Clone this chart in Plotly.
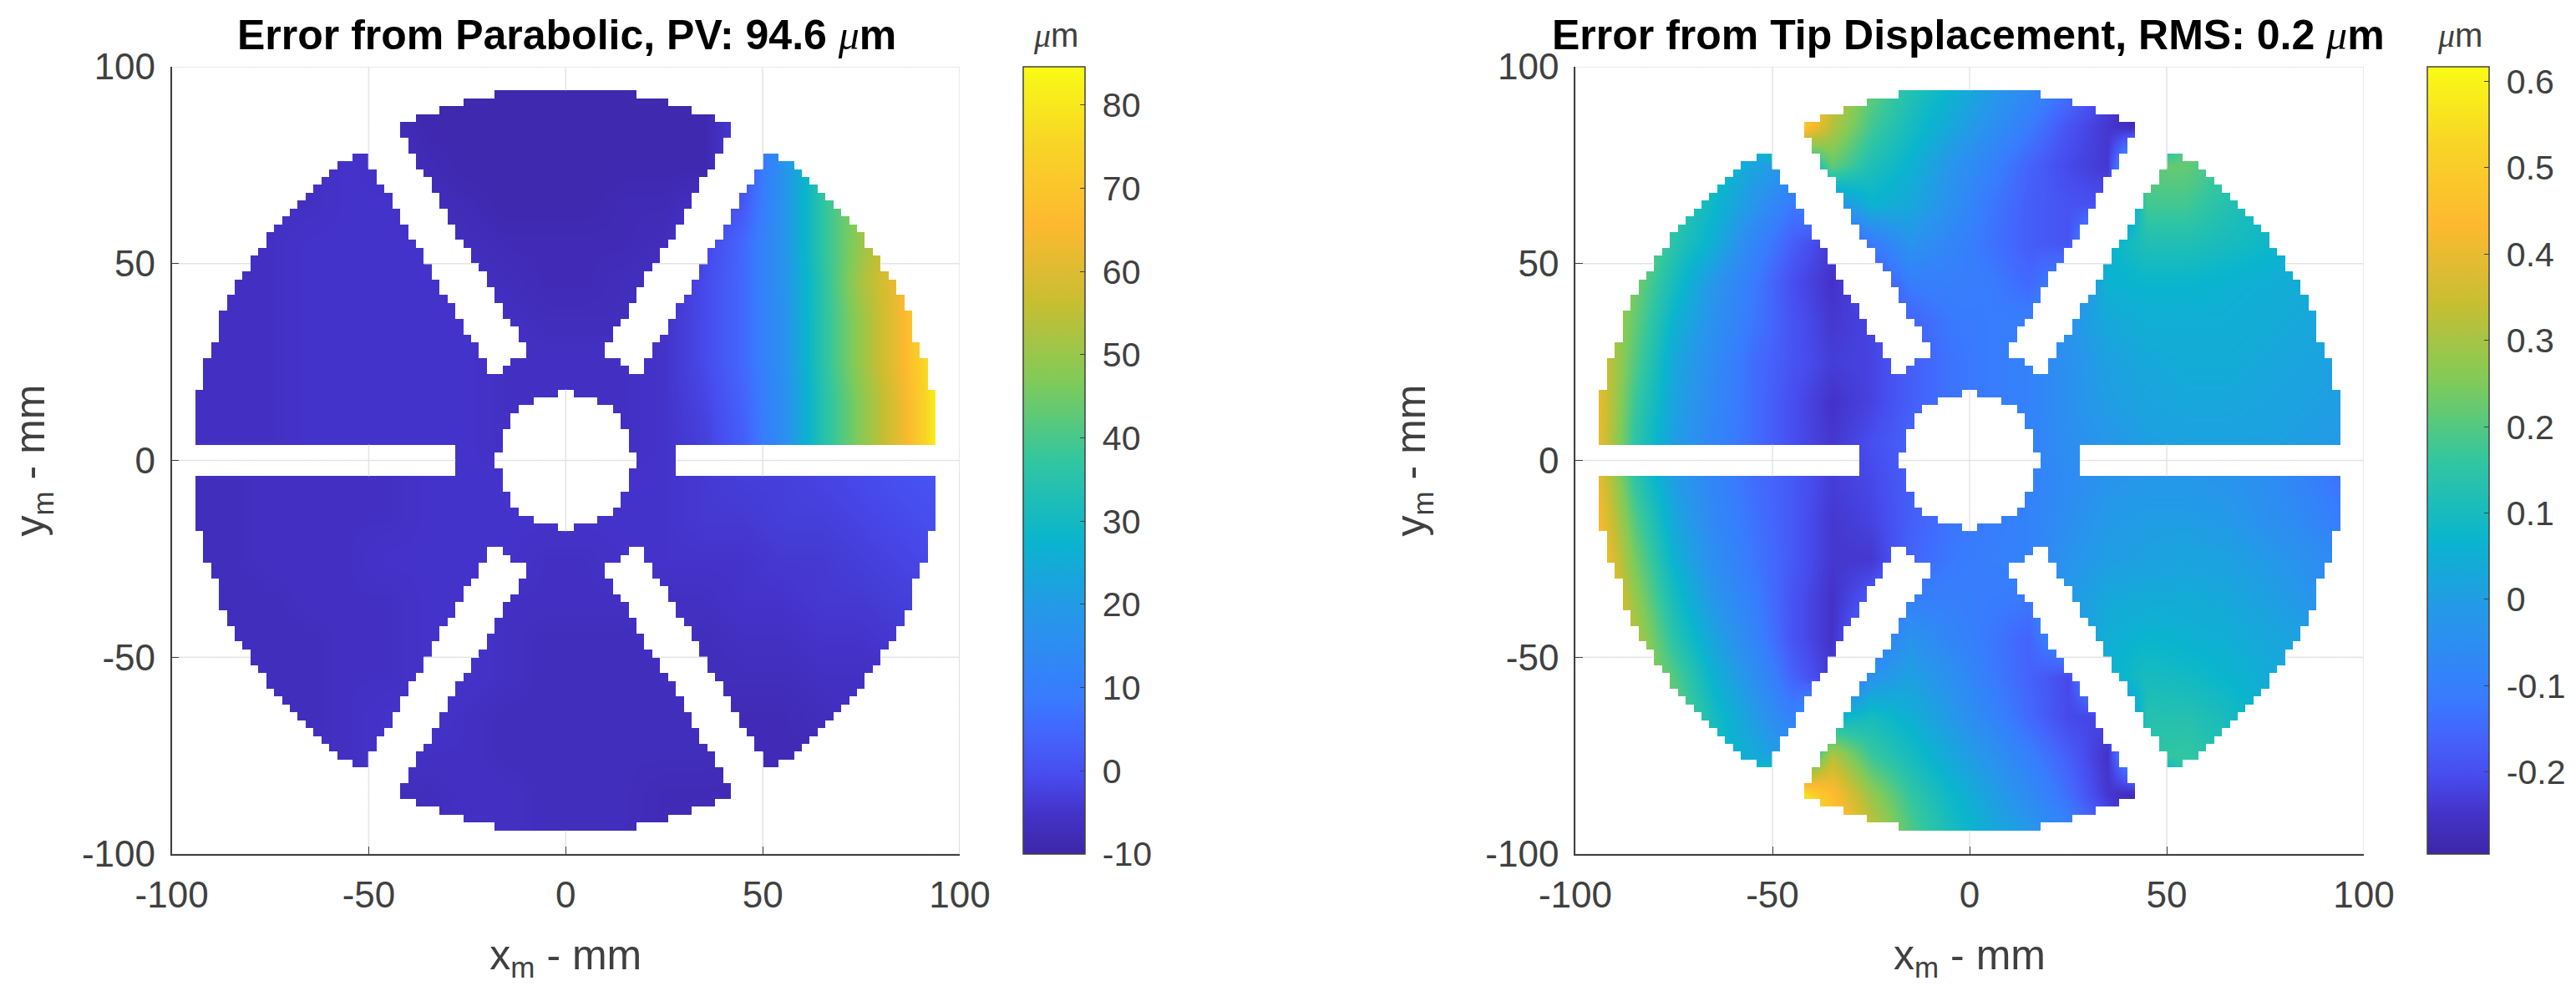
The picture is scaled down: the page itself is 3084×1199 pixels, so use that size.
import numpy as np
import plotly.graph_objects as go

# read-off knots (mm)
X_KNOTS = [-95, -85, -75, -65, -55, -45, -35, -25, -15, -5, 5, 15, 25, 35, 45, 55, 65, 75, 85, 95]
Y_KNOTS = [95, 85, 75, 65, 55, 45, 35, 25, 15, 4, -4, -15, -25, -35, -45, -55, -65, -75, -85, -95]

# error from parabolic, um (rows follow Y_KNOTS)
Z_PARABOLIC = [
    [-6, -6, -6, -6, -6, -7, -9, -9, -9, -9, -9, -9, -9, -9, -2, 17, 36, 50, 62, 84],
    [-6, -6, -6, -6, -6, -7, -9, -9, -9, -9, -9, -9, -9, -9, -2, 17, 36, 50, 62, 84],
    [-6, -6, -6, -6, -5, -6, -8, -9, -9, -9, -9, -9, -9, -9, 0, 17, 36, 50, 62, 84],
    [-6, -6, -6, -6, -5, -5, -7, -8, -9, -9, -9, -8, -8, -6, 2, 17, 36, 50, 62, 84],
    [-6, -6, -6, -5, -5, -5, -5, -7, -8, -8, -8, -8, -7, -2, 5, 17, 36, 50, 62, 84],
    [-6, -6, -6, -5, -5, -5, -5, -6, -7, -8, -8, -7, -6, -1, 5, 17, 35, 52, 64, 84],
    [-6, -6, -6, -5, -5, -5, -5, -5, -6, -7, -7, -7, -5, -1, 5, 16, 35, 50, 64, 84],
    [-6, -6, -6, -5, -5, -5, -5, -5, -6, -6, -6, -6, -5, -1, 5, 16, 35, 50, 64, 84],
    [-6, -6, -6, -5, -5, -5, -5, -5, -6, -6, -6, -6, -5, -2, 4, 15, 34, 48, 62, 84],
    [-6, -6, -6, -5, -5, -5, -5, -5, -6, -6, -6, -6, -5, -3, 3, 15, 34, 48, 62, 84],
    [-7, -7, -6, -6, -6, -6, -5, -5, -5, -6, -6, -5, -5, -4, -3, -3, -2, -1, 0, 1],
    [-7, -7, -6, -6, -6, -6, -5, -5, -5, -5, -5, -5, -5, -4, -4, -3, -3, -2, -1, 0],
    [-7, -7, -6, -6, -6, -5, -5, -5, -5, -6, -6, -5, -5, -5, -5, -4, -4, -3, -2, -1],
    [-7, -7, -7, -6, -6, -6, -5, -5, -6, -6, -6, -6, -6, -6, -5, -5, -4, -4, -3, -3],
    [-7, -7, -7, -7, -6, -6, -5, -5, -6, -7, -7, -7, -6, -7, -6, -6, -5, -5, -4, -4],
    [-7, -7, -7, -7, -6, -6, -5, -5, -6, -7, -7, -7, -7, -7, -7, -7, -6, -6, -5, -5],
    [-7, -7, -7, -7, -6, -5, -5, -6, -7, -7, -7, -7, -7, -7, -8, -8, -7, -6, -6, -6],
    [-7, -7, -7, -7, -6, -5, -6, -6, -7, -7, -7, -7, -7, -7, -8, -8, -8, -7, -7, -7],
    [-7, -7, -7, -7, -7, -7, -7, -6, -6, -7, -7, -7, -8, -8, -8, -8, -8, -8, -8, -8],
    [-7, -7, -7, -7, -7, -7, -7, -6, -6, -7, -7, -7, -8, -8, -8, -8, -8, -8, -8, -8],
]

# error from tip displacement, um (rows follow Y_KNOTS)
Z_TIP = [
    [.30, .25, .20, .12, .08, .55, .36, .22, .13, .07, .00, -.06, -.13, -.22, -.28, .22, .16, .11, .08, .06],
    [.30, .25, .20, .12, .08, .55, .32, .18, .10, .03, -.04, -.11, -.19, -.24, -.29, .22, .16, .11, .08, .06],
    [.30, .25, .18, .10, .02, -.03, .22, .12, .06, -.02, -.09, -.16, -.21, -.24, .22, .22, .16, .11, .08, .06],
    [.30, .25, .16, .08, -.02, -.12, -.05, .06, .03, -.04, -.12, -.17, -.19, -.20, .18, .18, .13, .09, .07, .05],
    [.34, .26, .14, .05, -.08, -.17, -.24, -.12, -.03, -.08, -.13, -.17, -.19, .06, .12, .12, .10, .08, .06, .05],
    [.36, .24, .10, -.02, -.11, -.20, -.25, -.20, -.11, -.10, -.11, -.15, -.08, .06, .07, .07, .06, .05, .04, .03],
    [.38, .22, .06, -.04, -.12, -.19, -.24, -.22, -.16, -.12, -.11, -.10, -.03, .03, .05, .05, .05, .04, .03, .02],
    [.40, .20, .03, -.06, -.14, -.19, -.23, -.22, -.17, -.13, -.11, -.09, -.04, .01, .03, .04, .04, .03, .02, .01],
    [.42, .17, .02, -.07, -.14, -.20, -.25, -.22, -.17, -.13, -.11, -.09, -.04, .00, .02, .03, .03, .02, .01, .00],
    [.42, .15, .00, -.08, -.14, -.20, -.24, -.20, -.16, -.13, -.11, -.09, -.05, -.02, .00, .01, .01, .01, .00, -.01],
    [.42, .15, .00, -.08, -.14, -.18, -.23, -.21, -.17, -.13, -.10, -.09, -.06, -.03, -.02, -.02, -.03, -.05, -.09, -.14],
    [.45, .20, .03, -.07, -.13, -.18, -.24, -.22, -.17, -.13, -.11, -.09, -.05, -.01, .00, .00, -.01, -.04, -.07, -.11],
    [.48, .24, .06, -.05, -.12, -.18, -.24, -.24, -.16, -.12, -.10, -.09, -.03, .00, .01, .02, .01, -.01, -.04, -.07],
    [.50, .28, .10, -.02, -.10, -.19, -.25, -.18, -.10, -.10, -.11, -.12, -.01, .03, .04, .04, .03, .01, -.02, -.05],
    [.50, .32, .14, .02, -.08, -.19, -.25, -.12, -.03, -.08, -.12, -.16, -.03, .05, .07, .06, .05, .03, .01, -.02],
    [.50, .32, .20, .06, -.04, -.16, -.24, -.03, .01, -.04, -.11, -.16, -.21, .06, .10, .09, .07, .04, .02, .00],
    [.50, .35, .24, .10, .00, -.10, .06, .10, .05, -.01, -.08, -.15, -.21, -.22, .13, .13, .10, .06, .03, .01],
    [.50, .35, .25, .10, .04, -.03, .32, .17, .10, .03, -.03, -.10, -.17, -.25, .15, .16, .12, .07, .03, .01],
    [.50, .35, .25, .15, .10, .60, .45, .28, .16, .08, .01, -.06, -.14, -.24, -.29, .16, .12, .07, .03, .01],
    [.50, .35, .25, .15, .10, .60, .50, .35, .20, .11, .04, -.01, -.08, -.17, -.26, .16, .12, .07, .03, .01],
]

# mask: cell-edge positions (mm), x >= 0, upper half; the part is mirrored
WEDGE_TOPS_94_TO_24 = [18, 26, 32, 38, 42, 42, 40, 40, 38, 38, 36, 34, 34, 32, 32, 30, 30, 28, 28, 26,
                       24, 24, 22, 20, 20, 18, 18, 16, 16, 14, 12, 12, 10, 10, 14, 16]
SIDE_INNER_78_TO_24 = [50, 50, 48, 48, 46, 44, 44, 42, 42, 40, 40, 38, 36, 36, 34, 34, 32, 32, 30, 28,
                       28, 26, 26, 24, 22, 22, 20, 20]
OUTER_78_TO_6 = [54, 58, 60, 62, 64, 66, 68, 70, 72, 74, 76, 76, 78, 80, 80, 82, 84, 84, 86, 86,
                 88, 88, 88, 88, 90, 90, 92, 92, 92, 92, 94, 94, 94, 94, 94, 94, 94]
HOLE_18_TO_2 = [2, 8, 12, 14, 14, 16, 16, 16, 18]
SLOT_END_4_TO_2 = [28, 28]

TICKS_XY = [-100, -50, 0, 50, 100]
TICK_LABELS_XY = ["-100", "-50", "0", "50", "100"]
CB1_TICKS = [-10, 0, 10, 20, 30, 40, 50, 60, 70, 80]
CB1_LABELS = ["-10", "0", "10", "20", "30", "40", "50", "60", "70", "80"]
CB2_TICKS = [-0.2, -0.1, 0, 0.1, 0.2, 0.3, 0.4, 0.5, 0.6]
CB2_LABELS = ["-0.2", "-0.1", "0", "0.1", "0.2", "0.3", "0.4", "0.5", "0.6"]
RANGE1 = [-10, 84.6]
RANGE2 = [-0.295, 0.617]
MU = '<span style="font-family:Liberation Serif;font-style:italic;font-weight:normal">μ</span>'
TITLE1 = "<b>Error from Parabolic, PV: 94.6 </b>" + MU + "<b>m</b>"
TITLE2 = "<b>Error from Tip Displacement, RMS: 0.2 </b>" + MU + "<b>m</b>"

PARULA = [
    [0.00, "rgb(62,38,168)"], [0.05, "rgb(68,50,200)"], [0.10, "rgb(71,76,238)"], [0.15, "rgb(68,100,252)"],
    [0.20, "rgb(56,124,254)"], [0.30, "rgb(39,150,235)"], [0.40, "rgb(10,181,205)"], [0.50, "rgb(50,198,160)"],
    [0.60, "rgb(128,203,89)"], [0.70, "rgb(200,190,50)"], [0.80, "rgb(253,185,48)"], [0.90, "rgb(248,212,38)"],
    [1.00, "rgb(249,251,21)"],
]
INK = "#404040"
W, H = 3084, 1199
PAGE_MARGIN = 8  # the page body's own offset


def fx(px):
    return (px - PAGE_MARGIN) / W


def fy(py):
    return 1 - (py - PAGE_MARGIN) / H


def filled_spans(top):
    spans = []
    if 24 <= top <= 94:
        spans.append((0, WEDGE_TOPS_94_TO_24[(94 - top) // 2]))
    if 24 <= top <= 78:
        spans.append((SIDE_INNER_78_TO_24[(78 - top) // 2], OUTER_78_TO_6[(78 - top) // 2]))
    if top in (22, 20):
        spans.append((0, OUTER_78_TO_6[(78 - top) // 2]))
    if 6 <= top <= 18:
        spans.append((HOLE_18_TO_2[(18 - top) // 2], OUTER_78_TO_6[(78 - top) // 2]))
    if top in (4, 2):
        spans.append((HOLE_18_TO_2[(18 - top) // 2], SLOT_END_4_TO_2[(4 - top) // 2]))
    return spans


cells_x = np.arange(-99, 100, 2)
cells_y = np.arange(-99, 100, 2)
blank = np.ones((cells_y.size, cells_x.size), dtype=bool)
for top in range(2, 95, 2):
    for a, b in filled_spans(top):
        for sx in (1, -1):
            lo, hi = sorted((sx * a, sx * b))
            ix = (cells_x > lo) & (cells_x < hi)
            blank[np.ix_(cells_y == top - 1, ix)] = False
            blank[np.ix_(cells_y == -(top - 1), ix)] = False
mask_z = np.where(blank, 1.0, np.nan).tolist()


def is_blank(x, y):
    i = (x + 99) // 2
    j = (y + 99) // 2
    if i < 0 or j < 0 or i >= cells_x.size or j >= cells_y.size:
        return True
    return bool(blank[j, i])


def grid_path():
    xs, ys = [], []
    for g in TICKS_XY:
        for c in cells_y:
            c = int(c)
            if is_blank(g - 1, c) or is_blank(g + 1, c):
                xs += [g, g, None]
                ys += [c - 1, c + 1, None]
            if is_blank(c, g - 1) or is_blank(c, g + 1):
                xs += [c - 1, c + 1, None]
                ys += [g, g, None]
    return xs, ys


gx, gy = grid_path()
fig = go.Figure()


def add_panel(z, rng, ticks, labels, xa, ya, cbx):
    fig.add_trace(go.Heatmap(
        x=X_KNOTS, y=Y_KNOTS, z=z, zmin=rng[0], zmax=rng[1], zsmooth="best", colorscale=PARULA,
        xaxis=xa, yaxis=ya, hoverinfo="skip",
        colorbar=dict(
            x=fx(cbx), xref="paper", xanchor="left", xpad=0, ypad=0,
            y=fy(1023), yref="paper", yanchor="bottom",
            len=943 / H, lenmode="fraction", thickness=74, thicknessmode="pixels",
            tickmode="array", tickvals=ticks, ticktext=["\u00a0" + t for t in labels], ticks="inside", ticklen=6,
            tickcolor=INK, tickfont=dict(family="Liberation Sans", size=41, color=INK),
            outlinecolor=INK, outlinewidth=1.5,
        ),
    ))
    fig.add_trace(go.Heatmap(
        x=cells_x, y=cells_y, z=mask_z, zmin=0, zmax=1, zsmooth=False, showscale=False,
        colorscale=[[0, "white"], [1, "white"]], xaxis=xa, yaxis=ya, hoverinfo="skip",
    ))
    fig.add_trace(go.Scatter(
        x=gx, y=gy, mode="lines", line=dict(color="#e4e4e4", width=1.5), xaxis=xa, yaxis=ya,
        hoverinfo="skip", showlegend=False,
    ))


add_panel(Z_PARABOLIC, RANGE1, CB1_TICKS, CB1_LABELS, "x", "y", 1225)
add_panel(Z_TIP, RANGE2, CB2_TICKS, CB2_LABELS, "x2", "y2", 2906)


def axis(domain, anchor, title, standoff):
    return dict(
        domain=domain, anchor=anchor, range=[-100, 100], tickmode="array", tickvals=TICKS_XY,
        ticktext=TICK_LABELS_XY, ticks="inside", ticklen=9, tickcolor=INK, showgrid=False, zeroline=False,
        showline=True, linecolor=INK, linewidth=1.5, automargin=False,
        tickfont=dict(family="Liberation Sans", size=44, color=INK), ticklabelstandoff=9,
        title=dict(text=title, font=dict(family="Liberation Sans", size=50, color=INK), standoff=standoff),
    )


yd = [fy(1023), fy(80)]
TITLE_FONT = dict(family="Liberation Sans", size=50, color="black")
UNIT_FONT = dict(family="Liberation Sans", size=40, color=INK)


def note(text, px, py, font):
    return dict(text=text, x=fx(px), y=fy(py), xref="paper", yref="paper", showarrow=False,
                xanchor="center", yanchor="middle", font=font)


fig.update_layout(
    width=W, height=H, margin=dict(l=0, r=0, t=0, b=0), paper_bgcolor="white", plot_bgcolor="white",
    showlegend=False,
    xaxis=axis([fx(205.6), fx(1149)], "y", "x<sub>m</sub> - mm", 31),
    yaxis=axis(yd, "x", "y<sub>m</sub> - mm", 56),
    xaxis2=axis([fx(1886), fx(2830)], "y2", "x<sub>m</sub> - mm", 31),
    yaxis2=axis(yd, "x2", "y<sub>m</sub> - mm", 56),
    annotations=[
        note(TITLE1, 678, 42, TITLE_FONT),
        note(TITLE2, 2356, 42, TITLE_FONT),
        note(MU + "m", 1264, 42, UNIT_FONT),
        note(MU + "m", 2945, 42, UNIT_FONT),
    ],
)
fig.write_html("out.html")
